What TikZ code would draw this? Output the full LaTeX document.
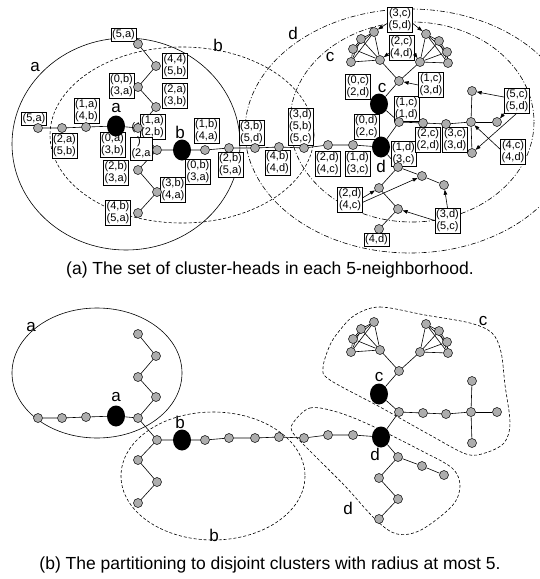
\documentclass[tikz,border=0pt]{standalone}
\usepackage{fontspec}
\setmainfont{Liberation Sans}
\usetikzlibrary{shapes.geometric,arrows.meta}
\pgfdeclarelayer{bg}
\pgfsetlayers{bg,main}
\tikzset{
 gn/.style={circle,draw,fill=black!32,minimum size=9pt,inner sep=0pt,line width=0.5pt},
 bn/.style={ellipse,fill=black,minimum width=18pt,minimum height=21pt,inner sep=0pt},
 lb/.style={draw,fill=white,font=\fontsize{11}{12}\selectfont,inner sep=1.2pt,align=center,line width=0.6pt},
 ln/.style={line width=0.6pt},
 arr/.style={line width=0.6pt,-{Triangle[length=5pt,width=3.6pt]}},
 ltr/.style={font=\fontsize{17}{17}\selectfont,inner sep=0pt},
 captn/.style={font=\fontsize{17.5}{18}\selectfont,inner sep=0pt},
 dsh/.style={line width=0.6pt,dash pattern=on 3pt off 2pt},
 ddot/.style={line width=0.6pt,dash pattern=on 5pt off 2pt on 1pt off 2pt},
}
\newcommand\mygraph[2]{%
\begin{scope}[shift={(0,#2)}]
\node[bn] (#1a) at (116,126) {};
\node[gn] (#1n1) at (38,128) {};
\node[gn] (#1n2) at (62,128) {};
\node[gn] (#1n3) at (86,127) {};
\node[gn] (#1p0) at (138,128) {};
\node[gn] (#1p1) at (156,107) {};
\node[gn] (#1p2) at (138,87) {};
\node[gn] (#1p3) at (156,66) {};
\node[gn] (#1p4) at (138,44) {};
\node[gn] (#1q0) at (157,150) {};
\node[gn] (#1q1) at (138,170) {};
\node[gn] (#1q2) at (157,192) {};
\node[gn] (#1q3) at (138,213) {};
\node[bn] (#1b) at (182,150) {};
\node[gn] (#1r1) at (205,150) {};
\node[gn] (#1r2) at (229,148) {};
\node[gn] (#1r3) at (255,148) {};
\node[gn] (#1r4) at (279,147) {};
\node[gn] (#1r5) at (304,148) {};
\node[gn] (#1r6) at (328,145) {};
\node[gn] (#1r7) at (353,145) {};
\node[bn] (#1d) at (381,147) {};
\node[gn] (#1s0) at (399,122) {};
\node[bn] (#1c) at (379,104) {};
\node[gn] (#1t0) at (399,81) {};
\node[gn] (#1L1) at (380,60) {};
\node[gn] (#1L2) at (351,62) {};
\node[gn] (#1L3) at (353,49) {};
\node[gn] (#1L4) at (361,39) {};
\node[gn] (#1L5) at (374,32) {};
\node[gn] (#1R1) at (420,62) {};
\node[gn] (#1R2) at (426,34) {};
\node[gn] (#1R3) at (439,41) {};
\node[gn] (#1R4) at (447,52) {};
\node[gn] (#1R5) at (448,63) {};
\node[gn] (#1u1) at (423,123) {};
\node[gn] (#1u2) at (446,124) {};
\node[gn] (#1u3) at (471,122) {};
\node[gn] (#1u4) at (472,91) {};
\node[gn] (#1u5) at (497,122) {};
\node[gn] (#1u6) at (472,153) {};
\node[gn] (#1v0) at (398,167) {};
\node[gn] (#1v1) at (422,176) {};
\node[gn] (#1v2) at (444,185) {};
\node[gn] (#1w1) at (379,188) {};
\node[gn] (#1w2) at (398,209) {};
\node[gn] (#1w3) at (379,229) {};
\end{scope}
\begin{pgfonlayer}{bg}
\draw[ln] (#1a) -- (#1n3) -- (#1n2) -- (#1n1);
\draw[ln] (#1a) -- (#1p0) -- (#1p1) -- (#1p2) -- (#1p3) -- (#1p4);
\draw[ln] (#1p0) -- (#1q0) -- (#1b);
\draw[ln] (#1q0) -- (#1q1) -- (#1q2) -- (#1q3);
\draw[ln] (#1b) -- (#1r1) -- (#1r2) -- (#1r3) -- (#1r4) -- (#1r5) -- (#1r6) -- (#1r7) -- (#1d);
\draw[ln] (#1d) -- (#1s0) -- (#1c) -- (#1t0) -- (#1L1);
\draw[ln] (#1t0) -- (#1R1);
\foreach \i/\j in {1/2,1/3,1/4,1/5,2/3,2/4,2/5,3/4,3/5,4/5}{
 \draw[ln] (#1L\i) -- (#1L\j);
 \draw[ln] (#1R\i) -- (#1R\j);}
\draw[ln] (#1s0) -- (#1u1) -- (#1u2) -- (#1u3) -- (#1u4);
\draw[ln] (#1u3) -- (#1u5);
\draw[ln] (#1u3) -- (#1u6);
\draw[ln] (#1d) -- (#1v0) -- (#1v1) -- (#1v2);
\draw[ln] (#1v0) -- (#1w1) -- (#1w2) -- (#1w3);
\end{pgfonlayer}
}
\begin{document}
\begin{tikzpicture}[x=1pt,y=-1pt]
\useasboundingbox (0,0) rectangle (540,579);
% ---------- part (a) ----------
\begin{pgfonlayer}{bg}
\begin{scope}
\clip (0,0) rectangle (540,579);
\draw[ln] (126,144) ellipse [x radius=114, y radius=106];
\draw[dsh] (182,135) ellipse [x radius=132, y radius=88];
\draw[ddot] (410,131) ellipse [x radius=165, y radius=122];
\draw[ddot] (412,122) ellipse [x radius=122, y radius=100];
\end{scope}
\end{pgfonlayer}
\node[ltr] (ea) at (35,67) {a};
\node[ltr] (eb) at (218,45) {b};
\node[ltr] (ec) at (330,57) {c};
\node[ltr] (ed) at (293,33) {d};
\node[font=\fontsize{11}{12}\selectfont,anchor=west,inner sep=0pt] (hid) at (131.5,128) {(1};
\node[lb] (b1) at (123.5,35) {(5,a)};
\node[lb] (b2) at (175,65.5) {(4,4)\\(5,b)};
\node[lb] (b3) at (121.5,86) {(0,b)\\(3,a)};
\node[lb] (b4) at (175,95.5) {(2,a)\\(3,b)};
\node[lb] (b5) at (34,118.5) {(5,a)};
\node[lb] (b6) at (86.5,110.5) {(1,a)\\(4,b)};
\node[lb] (b7) at (64.5,145.5) {(2,a)\\(5,b)};
\node[lb] (b8) at (112.5,145) {(0,a)\\(3,b)};
\node[lb] (b9) at (152.5,126.5) {(1,a)\\(2,b)};
\node[draw,fill=white,line width=0.6pt,minimum width=22pt,minimum height=23pt,inner sep=0pt] (b10) at (141,148.5) {};
\node[font=\fontsize{11}{12}\selectfont,inner sep=0pt] (b10a) at (139,142) {)};
\node[font=\fontsize{11}{12}\selectfont,inner sep=0pt] (b10b) at (141,154) {(2,a};
\node[lb] (b11) at (116,173) {(2,b)\\(3,a)};
\node[lb] (b12) at (173,190) {(3,b)\\(4,a)};
\node[lb] (b13) at (118,212.5) {(4,b)\\(5,a)};
\node[lb] (b14) at (206.5,130.5) {(1,b)\\(4,a)};
\node[lb] (b15) at (198,171.5) {(0,b)\\(3,a)};
\node[lb] (b16) at (251.5,132.5) {(3,b)\\(5,d)};
\node[lb] (b17) at (230.5,165) {(2,b)\\(5,a)};
\node[lb] (b18) at (277.5,162.5) {(4,b)\\(4,d)};
\node[lb] (b19) at (300.5,127) {(3,d)\\(5,b)\\(5,c)};
\node[lb] (b20) at (327.5,163.5) {(2,d)\\(4,c)};
\node[lb] (b21) at (357.5,163.5) {(1,d)\\(3,c)};
\node[lb] (b22) at (403.5,153.5) {(1,d)\\(3,c)};
\node[lb] (b23) at (366.5,126.5) {(0,d)\\(2,c)};
\node[lb] (b24) at (406.5,108.5) {(1,c)\\(1,d)};
\node[lb] (b25) at (358,86.5) {(0,c)\\(2,d)};
\node[lb] (b26) at (431,85) {(1,c)\\(3,d)};
\node[lb] (b27) at (401.5,47.5) {(2,c)\\(4,d)};
\node[lb] (b28) at (400,20) {(3,c)\\(5,d)};
\node[lb] (b29) at (428,139.5) {(2,c)\\(2,d)};
\node[lb] (b30) at (455,140) {(3,c)\\(3,d)};
\node[lb] (b31) at (517,100.5) {(5,c)\\(5,d)};
\node[lb] (b32) at (513,151.5) {(4,c)\\(4,d)};
\node[lb] (b33) at (350,200) {(2,d)\\(4,c)};
\node[lb] (b34) at (447.5,220.5) {(3,d)\\(5,c)};
\node[lb] (b35) at (376.5,239.5) {(4,d)};
\mygraph{A}{0}
\node[ltr] (la) at (116,108) {a};
\node[ltr] (lbb) at (180,132) {b};
\node[ltr] (lc) at (382,88) {c};
\node[ltr] (ld) at (381,166) {d};
\draw[arr] (b28.195) -- (AL5);
\draw[arr] (b28.345) -- (AR2);
\draw[arr] (b27.205) -- (AL1);
\draw[arr] (b27.335) -- (AR1);
\draw[arr] (b26.west) -- (At0);
\draw[arr] (b31.165) -- (Au4);
\draw[arr] (b31.225) -- (Au5);
\draw[arr] (b31.south) -- (Au6);
\draw[arr] (b32.170) -- (Au3);
\draw[arr] (b33.10) -- (Aw1);
\draw[arr] (b33.350) -- (Av1);
\draw[arr] (b34.west) -- (Aw2);
\draw[arr] (b34.north) -- (Av2);
\node[captn] (capa) at (270,270) {(a) The set of cluster-heads in each 5-neighborhood.};
% ---------- part (b) ----------
\mygraph{B}{290}
\begin{pgfonlayer}{bg}
\draw[ln] (97,373) ellipse [x radius=85, y radius=65];
\draw[dsh] (213,476) ellipse [x radius=92, y radius=64];
\draw[dsh] plot[smooth cycle, tension=0.55] coordinates {(355,315) (380,307) (425,315) (470,323) (492,333) (501,352) (505,385) (510,423) (504,443) (485,453) (466,454) (430,435) (380,407) (330,380) (323,368) (330,345) (340,330)};
\draw[dsh] plot[smooth cycle, tension=0.55] coordinates {(293,423) (310,408) (337,412) (370,425) (420,450) (452,468) (460,486) (452,506) (421,530) (397,534) (376,520) (345,486) (310,451) (293,433)};
\end{pgfonlayer}
\node[ltr] (eab) at (31,327) {a};
\node[ltr] (ebb) at (214,535) {b};
\node[ltr] (ecb) at (483,321) {c};
\node[ltr] (edb) at (348,508) {d};
\node[ltr] (lab) at (116,397) {a};
\node[ltr] (lbbb) at (180,422) {b};
\node[ltr] (lcb) at (379,377) {c};
\node[ltr] (ldb) at (375,454) {d};
\node[captn] (capb) at (270,565) {(b) The partitioning to disjoint clusters with radius at most 5.};
\end{tikzpicture}
\end{document}
